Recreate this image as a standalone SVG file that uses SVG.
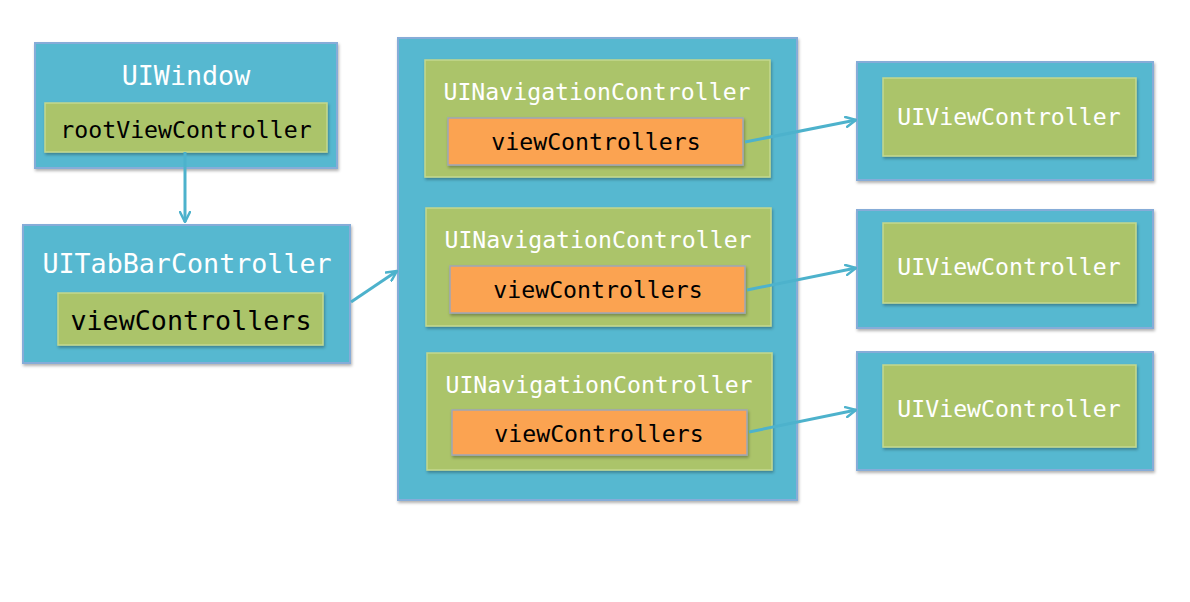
<svg xmlns="http://www.w3.org/2000/svg" width="1190" height="602" viewBox="0 0 1190 602">
<style>
.blue{fill:#56b8d0;stroke:#86acd8;stroke-width:2;filter:url(#sh)}
.green{fill:#abc46b;stroke:#c4d88e;stroke-width:1.5;filter:url(#sh)}
.orange{fill:#fba351;stroke:#9fa6b8;stroke-width:1.5;filter:url(#sh)}
.wt{font-family:"DejaVu Sans Mono",monospace;fill:#ffffff}
.bt{font-family:"DejaVu Sans Mono",monospace;fill:#000000}
.big{font-size:26.7px}
.sm{font-size:23.2px}
.conn{stroke:#4db2cc;stroke-width:3;fill:none;marker-end:url(#ah)}
</style>
<defs>
<filter id="sh" x="-10%" y="-10%" width="120%" height="130%">
<feDropShadow dx="1" dy="2" stdDeviation="1.5" flood-color="#000" flood-opacity="0.3"/>
</filter>
<marker id="ah" viewBox="0 0 12 12" refX="11" refY="6" markerWidth="12" markerHeight="12" markerUnits="userSpaceOnUse" orient="auto">
<path d="M1,1 L11,6 L1,11" fill="none" stroke="#4db2cc" stroke-width="2.5" stroke-linecap="round" stroke-linejoin="round"/>
</marker>
</defs>
<rect width="1190" height="602" fill="#ffffff"/>
<g id="uiwindow">
<rect class="blue" x="35" y="43" width="302" height="125"/>
<text class="wt big" x="186" y="85" text-anchor="middle">UIWindow</text>
<rect class="green" x="45" y="103" width="282" height="49"/>
<text class="bt sm" x="186" y="138" text-anchor="middle">rootViewController</text>
</g>
<g id="uitabbar">
<rect class="blue" x="23" y="225" width="327" height="138"/>
<text class="wt big" x="187" y="273" text-anchor="middle">UITabBarController</text>
<rect class="green" x="58" y="293" width="265" height="52"/>
<text class="bt big" x="191" y="330" text-anchor="middle">viewControllers</text>
</g>
<g id="container">
<rect class="blue" x="398" y="38" width="399" height="462"/>
</g>
<g id="nav1">
<rect class="green" x="425" y="60" width="345" height="117"/>
<text class="wt sm" x="597" y="100" text-anchor="middle">UINavigationController</text>
<rect class="orange" x="448" y="118" width="295" height="47"/>
<text class="bt sm" x="596" y="150" text-anchor="middle">viewControllers</text>
</g>
<g id="nav2">
<rect class="green" x="426" y="208" width="345" height="118"/>
<text class="wt sm" x="598" y="248" text-anchor="middle">UINavigationController</text>
<rect class="orange" x="450" y="266" width="295" height="47"/>
<text class="bt sm" x="598" y="298" text-anchor="middle">viewControllers</text>
</g>
<g id="nav3">
<rect class="green" x="427" y="353" width="345" height="117"/>
<text class="wt sm" x="599" y="393" text-anchor="middle">UINavigationController</text>
<rect class="orange" x="452" y="410" width="295" height="45"/>
<text class="bt sm" x="599" y="442" text-anchor="middle">viewControllers</text>
</g>
<g id="vc1">
<rect class="blue" x="857" y="62" width="296" height="118"/>
<rect class="green" x="883" y="78" width="253" height="78"/>
<text class="wt sm" x="1009" y="125" text-anchor="middle">UIViewController</text>
</g>
<g id="vc2">
<rect class="blue" x="857" y="210" width="296" height="118"/>
<rect class="green" x="883" y="223" width="253" height="80"/>
<text class="wt sm" x="1009" y="275" text-anchor="middle">UIViewController</text>
</g>
<g id="vc3">
<rect class="blue" x="857" y="352" width="296" height="118"/>
<rect class="green" x="883" y="365" width="253" height="82"/>
<text class="wt sm" x="1009" y="417" text-anchor="middle">UIViewController</text>
</g>
<g id="connectors">
<line class="conn" x1="185" y1="152" x2="185" y2="222"/>
<line class="conn" x1="351" y1="302" x2="397" y2="271"/>
<line class="conn" x1="745" y1="142" x2="856" y2="120"/>
<line class="conn" x1="747" y1="290" x2="856" y2="268"/>
<line class="conn" x1="749" y1="432" x2="856" y2="410"/>
</g>
</svg>
